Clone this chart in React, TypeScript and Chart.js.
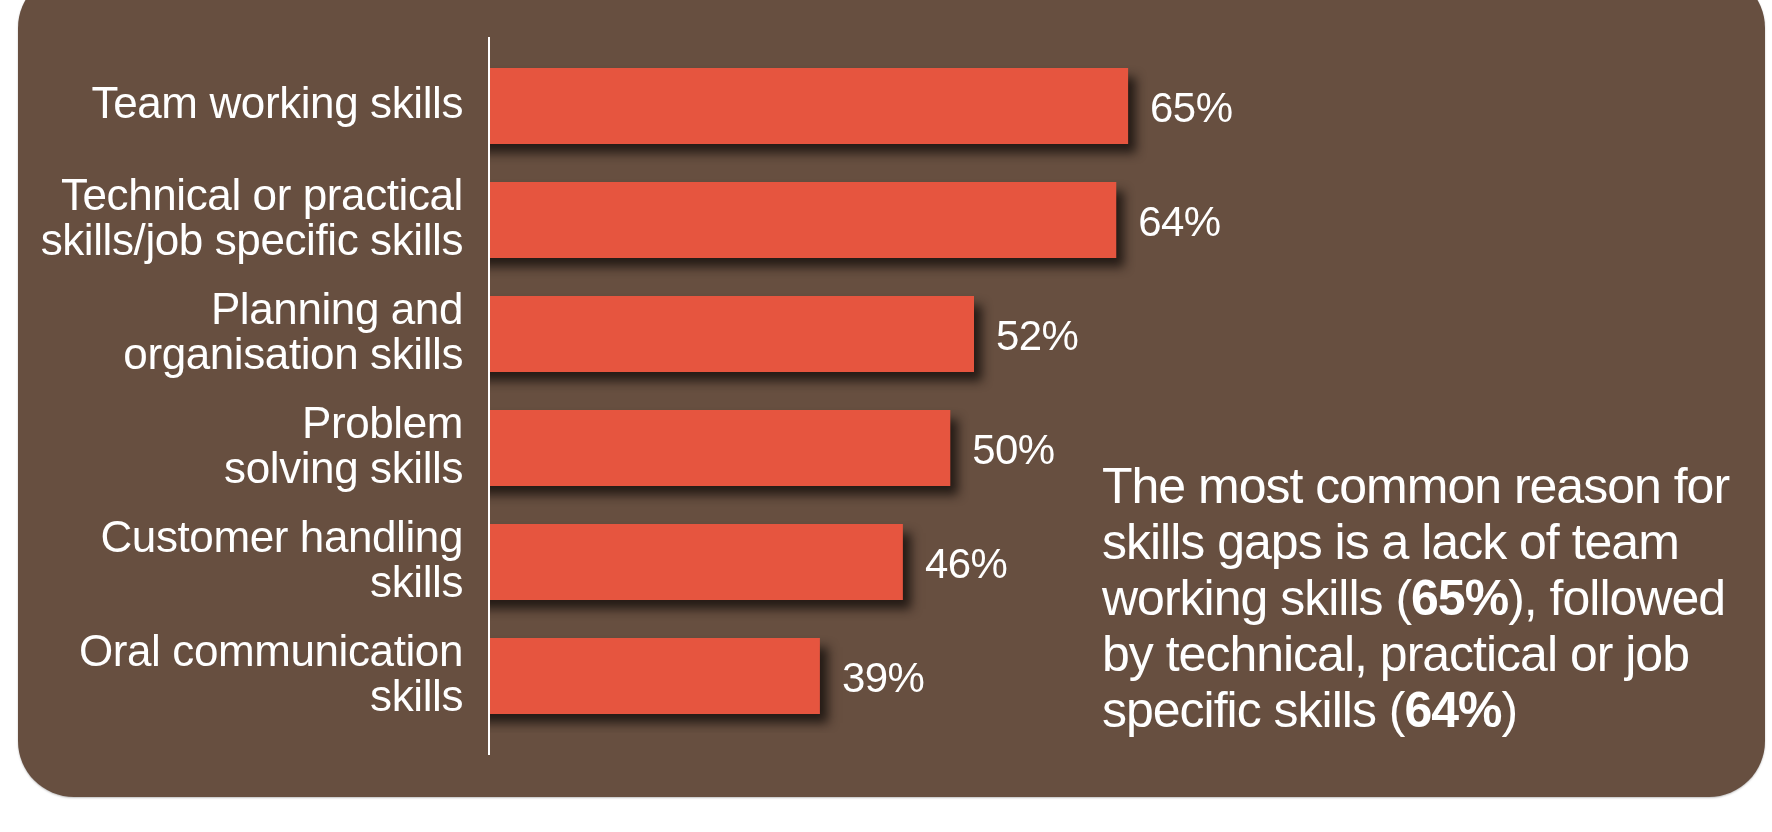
import React, { useEffect, useRef } from "react";
import { Chart, registerables } from "chart.js";

Chart.register(...registerables);

const categories: string[][] = [
  ["Team working skills"],
  ["Technical or practical", "skills/job specific skills"],
  ["Planning and", "organisation skills"],
  ["Problem", "solving skills"],
  ["Customer handling", "skills"],
  ["Oral communication", "skills"],
];
const values: number[] = [65, 64, 52, 50, 46, 39];
const valueSuffix = "%";

const BG = "#674F40";
const BAR = "#E6553F";
const FONT = "'Liberation Sans', Arial, sans-serif";

export default function App() {
  const canvasRef = useRef<HTMLCanvasElement | null>(null);

  useEffect(() => {
    if (!canvasRef.current) return;
    const decorPlugin = {
      id: "decor",
      beforeDraw(chart: any) {
        (chart.ctx as any).letterSpacing = "-0.4px";
      },
      beforeDatasetsDraw(chart: any) {
        const ctx = chart.ctx;
        ctx.save();
        ctx.shadowColor = "rgba(25,18,14,0.85)";
        ctx.shadowBlur = 10;
        ctx.shadowOffsetX = 8;
        ctx.shadowOffsetY = 9;
      },
      afterDatasetsDraw(chart: any) {
        const ctx = chart.ctx;
        ctx.restore();
        const area = chart.chartArea;
        ctx.save();
        ctx.strokeStyle = "#ffffff";
        ctx.lineWidth = 2;
        ctx.beginPath();
        ctx.moveTo(area.left + 1, area.top - 12);
        ctx.lineTo(area.left + 1, area.bottom + 22);
        ctx.stroke();
        const meta = chart.getDatasetMeta(0);
        ctx.fillStyle = "#ffffff";
        ctx.font = `42px ${FONT}`;
        (ctx as any).letterSpacing = "-0.6px";
        ctx.textAlign = "left";
        ctx.textBaseline = "middle";
        meta.data.forEach((bar: any, i: number) => {
          ctx.fillText(`${values[i]}${valueSuffix}`, bar.x + 22, bar.y + 4);
        });
        ctx.restore();
      },
    };

    const chart = new Chart(canvasRef.current, {
      type: "bar",
      data: {
        labels: categories,
        datasets: [
          {
            data: values,
            backgroundColor: BAR,
            borderWidth: 0,
            barPercentage: 0.667,
            categoryPercentage: 1,
          },
        ],
      },
      options: {
        indexAxis: "y",
        animation: false,
        responsive: false,
        devicePixelRatio: 1,
        layout: { padding: { left: 0, right: 229, top: 49, bottom: 99 } },
        plugins: {
          legend: { display: false },
          tooltip: { enabled: false },
          title: { display: false },
        },
        scales: {
          x: { display: false, min: 11, max: 100 },
          y: {
            afterFit(scale: any) {
              scale.width = 488;
              scale.paddingTop = 0;
              scale.paddingBottom = 0;
            },
            grid: { display: false, drawTicks: false },
            border: { display: false },
            ticks: {
              color: "#ffffff",
              padding: 25,
              font: { family: FONT, size: 44, lineHeight: 1.02 },
            },
          },
        },
      },
      plugins: [decorPlugin],
    } as any);
    return () => chart.destroy();
  }, []);

  return (
    <div
      style={{
        position: "absolute",
        left: 0,
        top: 0,
        width: 1772,
        height: 832,
        background: "#ffffff",
        overflow: "hidden",
      }}
    >
      <div
        style={{
          position: "absolute",
          left: 18,
          top: -28,
          width: 1747,
          height: 825,
          background: BG,
          borderRadius: 56,
          boxShadow: "0 1px 2px rgba(0,0,0,0.25)",
        }}
      />
      <canvas
        ref={canvasRef}
        width={1772}
        height={832}
        style={{ position: "absolute", left: 0, top: 0, width: 1772, height: 832 }}
      />
      <div
        style={{
          position: "absolute",
          left: 1102,
          top: 458,
          color: "#ffffff",
          fontFamily: FONT,
          fontSize: 50,
          lineHeight: "56px",
          letterSpacing: "-1px",
          whiteSpace: "nowrap",
        }}
      >
        The most common reason for
        <br />
        skills gaps is a lack of team
        <br />
        working skills (<b>65%</b>), followed
        <br />
        by technical, practical or job
        <br />
        specific skills (<b>64%</b>)
      </div>
    </div>
  );
}
